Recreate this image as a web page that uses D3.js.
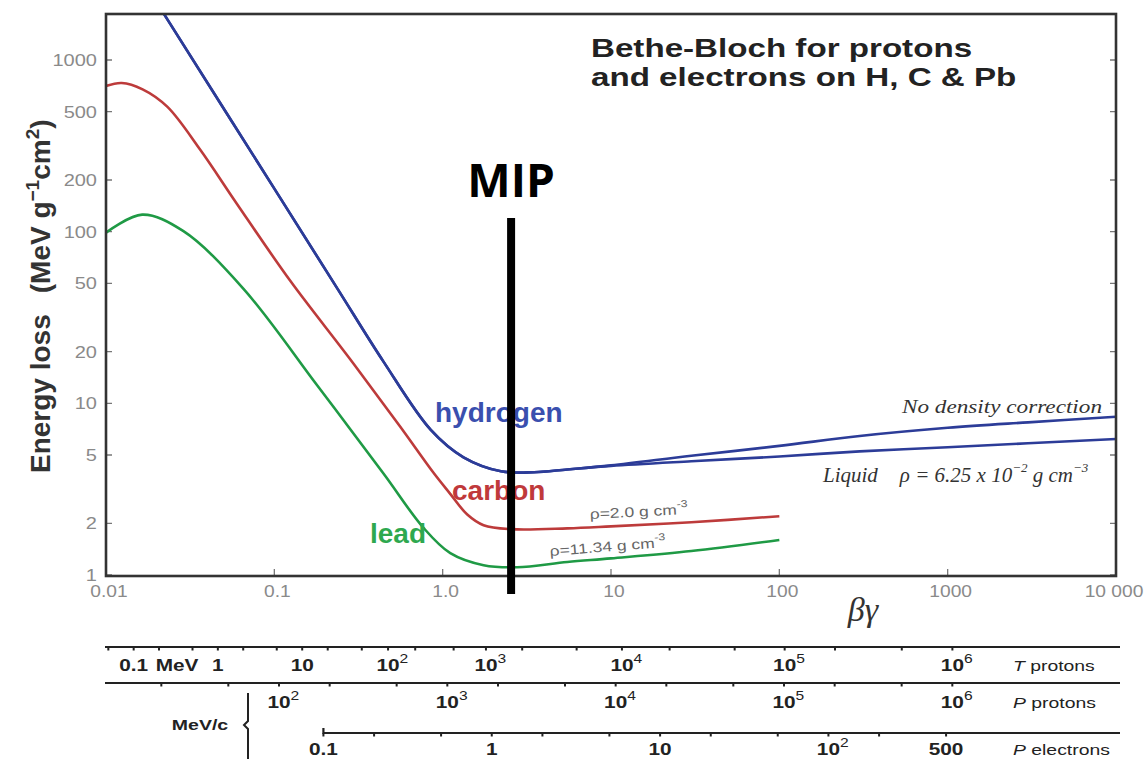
<!DOCTYPE html>
<html>
<head>
<meta charset="utf-8">
<script src="https://cdn.jsdelivr.net/npm/d3@7"></script>
<style>
body{margin:0;background:#fff}
svg{display:block}
</style>
</head>
<body>
<svg id="mainsvg" width="1148" height="759"></svg>
<script>
// [βγ, energy loss in MeV g^-1 cm^2]
const hydrogen = [[0.02,2170],[0.0231,1730],[0.1,178],[0.237,46.6],[0.445,17.5],[0.85,7.0],[1.33,4.85],[2.22,4.02],[3.5,3.97],[5.5,4.12]]
const hydrogenNoDensity = [[10,4.35],[30,4.95],[100,5.65],[300,6.45],[1000,7.2],[3000,7.75],[10000,8.35]]
const hydrogenLiquid = [[10,4.32],[30,4.6],[100,4.9],[300,5.25],[1000,5.55],[3000,5.85],[10000,6.2]]
const carbon = [[0.01,706],[0.0124,735],[0.0165,675],[0.0231,535],[0.0363,300],[0.06,145],[0.124,51.9],[0.283,18],[0.56,7.3],[0.88,3.95],[1.1,3.0],[1.4,2.25],[1.75,1.95],[2.55,1.85],[5.5,1.87],[10,1.92],[30,2.03],[100,2.2]]
const lead = [[0.01,98.7],[0.0164,125.6],[0.0287,101],[0.0654,46.6],[0.18,12.7],[0.445,3.9],[0.77,1.88],[1.11,1.34],[1.75,1.14],[2.77,1.11],[5.5,1.19],[10,1.25],[30,1.38],[100,1.6]]

const yTicks = [1,2,5,10,20,50,100,200,500,1000]
const xTicks = [0.01,0.1,1,10,100,1000,10000]
const xTickLabels = ['0.01','0.1','1.0','10','100','1000','10 000']
const mipBetaGamma = 2.55

// secondary scales: kinetic energy / momentum (MeV, MeV/c)
const protonMass = 938.3
const electronMass = 0.511
const tProtonTicks = [0.05,0.1,0.2,0.5,1,2,5,10,20,50,100,200,500,1000,2000,5000,1e4,2e4,5e4,1e5,2e5,5e5,1e6]
const tProtonLabels = [[0.1,'0.1',''],[1,'1',''],[10,'10',''],[100,'10','2'],[1000,'10','3'],[1e4,'10','4'],[1e5,'10','5'],[1e6,'10','6']]
const pProtonTicks = [20,50,100,200,500,1000,2000,5000,1e4,2e4,5e4,1e5,2e5,5e5,1e6]
const pProtonLabels = [[100,'10','2'],[1000,'10','3'],[1e4,'10','4'],[1e5,'10','5'],[1e6,'10','6']]
const pElectronTicks = [0.1,0.2,0.5,1,2,5,10,20,50,100,200,500]
const pElectronLabels = [[0.1,'0.1',''],[1,'1',''],[10,'10',''],[100,'10','2'],[500,'500','']]

const sans = "'Liberation Sans', Arial, Helvetica, sans-serif"
const stretch = 1.3

let plotLeft = 106, plotRight = 1116, plotTop = 14, plotBottom = 576
let x = d3.scaleLog().domain([0.01,10000]).range([plotLeft,plotRight])
let y = d3.scaleLog().domain([1,1000]).range([575,60])

const svg = d3.select('#mainsvg')
svg.append('defs').append('clipPath').attr('id','plotClip')
    .append('rect').attr('x',plotLeft).attr('y',plotTop).attr('width',plotRight - plotLeft).attr('height',plotBottom - plotTop)

// title
const title = svg.append('g').attr('transform',`translate(591,0)`)
;['Bethe-Bloch for protons','and electrons on H, C & Pb'].forEach((t,i) => {
    title.append('text')
        .attr('transform',`translate(0,${57 + i * 29}) scale(${stretch},1)`)
        .attr('font-family',sans).attr('font-weight','bold').attr('font-size',25.5)
        .attr('fill','#222').text(t)
})

// ticks + labels on main axes
svg.selectAll('.ytick').data(yTicks).enter().append('path')
    .attr('d',d => `M${plotLeft},${y(d)} h6 M${plotRight},${y(d)} h-6`)
    .attr('stroke','#777').attr('stroke-width',1.3)
svg.selectAll('.ylab').data(yTicks).enter().append('text')
    .attr('transform',d => `translate(97,${y(d) + 6}) scale(1.25,1)`)
    .attr('text-anchor','end').attr('font-family',sans).attr('font-size',16)
    .attr('fill','#8a8a8a').text(d => d)
svg.selectAll('.xtick').data(xTicks).enter().append('path')
    .attr('d',d => `M${x(d)},${plotBottom} v-7`)
    .attr('stroke','#777').attr('stroke-width',1.3)
svg.selectAll('.xlab').data(xTicks).enter().append('text')
    .attr('transform',(d,i) => `translate(${i === xTicks.length - 1 ? x(d) - 2 : x(d) + 3},597) scale(1.2,1)`)
    .attr('text-anchor','middle').attr('font-family',sans).attr('font-size',16)
    .attr('fill','#8a8a8a').text((d,i) => xTickLabels[i])

// y title
const ytitle = svg.append('text')
    .attr('transform','translate(50,473) rotate(-90)')
    .attr('font-family',sans).attr('font-weight','bold').attr('font-size',28).attr('fill','#333')
ytitle.append('tspan').text('Energy loss')
ytitle.append('tspan').attr('dx',21).text('(MeV g')
ytitle.append('tspan').attr('font-size',19).attr('dy',-11).text('\u22121')
ytitle.append('tspan').attr('dy',11).text('cm')
ytitle.append('tspan').attr('font-size',19).attr('dy',-11).text('2')
ytitle.append('tspan').attr('dy',11).text(')')

// βγ
svg.append('text').attr('x',863).attr('y',621).attr('text-anchor','middle')
    .attr('font-family',"'Liberation Serif', serif").attr('font-style','italic')
    .attr('font-size',34).attr('fill','#333').text('\u03b2\u03b3')

// curves
let line = d3.line().x(d => x(d[0])).y(d => y(d[1])).curve(d3.curveCatmullRom.alpha(0.5))
const curves = svg.append('g').attr('clip-path','url(#plotClip)')
const series = [
    [hydrogen.concat(hydrogenNoDensity),'#2c3c98'],
    [hydrogen.concat(hydrogenLiquid),'#2c3c98'],
    [carbon,'#bd3b3b'],
    [lead,'#1f9a45']
]
series.forEach(s => {
    curves.append('path').attr('d',line(s[0]))
        .attr('fill','none').attr('stroke',s[1]).attr('stroke-width',2.6)
})

// frame
svg.append('rect').attr('x',plotLeft).attr('y',plotTop).attr('width',plotRight - plotLeft).attr('height',plotBottom - plotTop)
    .attr('fill','none').attr('stroke','#333').attr('stroke-width',2.6)

// curve labels
const curveLabels = [['hydrogen',435,422,'#3a4fae'],['carbon',452,500,'#c0393b'],['lead',370,543,'#2ea84f']]
curveLabels.forEach(c => {
    svg.append('text').attr('x',c[1]).attr('y',c[2])
        .attr('font-family',sans).attr('font-weight','bold').attr('font-size',28)
        .attr('fill',c[3]).text(c[0])
})

// density notes
function densityNote(tx,ty,angle,label){
    const t = svg.append('text')
        .attr('transform',`translate(${tx},${ty}) rotate(${angle}) scale(1.25,1)`)
        .attr('font-family',sans).attr('font-size',14).attr('fill','#666')
    t.append('tspan').text(label)
    t.append('tspan').attr('font-size',10).attr('dy',-7).text('-3')
}
densityNote(590,519,-3,'\u03c1=2.0 g cm')
densityNote(550,556,-4.5,'\u03c1=11.34 g cm')

const hand = "'Liberation Serif', 'DejaVu Serif', serif"
svg.append('text').attr('x',902).attr('y',413)
    .attr('font-family',hand).attr('font-style','italic').attr('font-size',18).attr('fill','#333')
    .attr('textLength',200).attr('lengthAdjust','spacingAndGlyphs')
    .text('No density correction')
const liq = svg.append('text').attr('x',823).attr('y',482)
    .attr('font-family',hand).attr('font-style','italic').attr('font-size',21).attr('fill','#333')
liq.append('tspan').text('Liquid')
liq.append('tspan').attr('dx',22).text('\u03c1 = 6.25 x 10')
liq.append('tspan').attr('font-size',13).attr('dy',-10).text('\u22122')
liq.append('tspan').attr('dy',10).text(' g cm')
liq.append('tspan').attr('font-size',13).attr('dy',-10).text('\u22123')

// secondary scales
const tToBg = (t,m) => { let gm = 1 + t / m; return Math.sqrt(gm * gm - 1) }
const pToBg = (p,m) => p / m
const rows = [
    {y:647, x0:105, ticks:tProtonTicks, labels:tProtonLabels, conv:v => tToBg(v,protonMass), name:'T', rest:' protons', ly:671},
    {y:683, x0:105, ticks:pProtonTicks, labels:pProtonLabels, conv:v => pToBg(v,protonMass), name:'P', rest:' protons', ly:708},
    {y:733, x0:x(pToBg(0.1,electronMass)), ticks:pElectronTicks, labels:pElectronLabels, conv:v => pToBg(v,electronMass), name:'P', rest:' electrons', ly:755}
]
rows.forEach((r,ri) => {
    const rg = svg.append('g')
    let hook = ri === 2 ? `M${r.x0},${r.y - 5} L${r.x0},${r.y}` : `M${r.x0},${r.y}`
    rg.append('path').attr('d',`${hook} L1120,${r.y}`)
        .attr('fill','none').attr('stroke','#222').attr('stroke-width',2.2)
    rg.selectAll('.mt').data(r.ticks).enter().append('path')
        .attr('d',d => `M${x(r.conv(d))},${r.y} v3.5`)
        .attr('stroke','#222').attr('stroke-width',2)
    r.labels.forEach(l => {
        const t = rg.append('text')
            .attr('transform',`translate(${x(r.conv(l[0]))},${r.ly}) scale(${stretch},1)`)
            .attr('font-family',sans).attr('font-weight','bold').attr('font-size',16).attr('fill','#222')
        if(l[2] === ''){
            t.attr('text-anchor','middle').text(l[1])
        }else{
            t.attr('dx','-0.556em')
            t.append('tspan').text(l[1])
            t.append('tspan').attr('font-size',12).attr('font-weight','normal').attr('dy',-8).text(l[2])
        }
    })
    const nm = rg.append('text')
        .attr('transform',`translate(1013,${r.ly}) scale(1.25,1)`)
        .attr('font-family',sans).attr('font-size',15.5).attr('fill','#222')
    nm.append('tspan').attr('font-style','italic').text(r.name)
    nm.append('tspan').text(r.rest)
})
svg.append('text')
    .attr('transform',`translate(${x(tToBg(0.1,protonMass)) + 22},671) scale(${stretch},1)`)
    .attr('font-family',sans).attr('font-weight','bold').attr('font-size',16).attr('fill','#222')
    .text('MeV')
svg.append('text')
    .attr('transform',`translate(200,730) scale(${stretch},1)`)
    .attr('text-anchor','middle').attr('font-family',sans).attr('font-weight','bold').attr('font-size',15).attr('fill','#222')
    .text('MeV/c')
svg.append('path').attr('d','M248,693 L248,721 L244,725 L248,729 L248,760')
    .attr('fill','none').attr('stroke','#222').attr('stroke-width',2)

// MIP marker
let mipX = x(mipBetaGamma)
svg.append('line').attr('x1',mipX).attr('x2',mipX).attr('y1',218).attr('y2',594)
    .attr('stroke','#000').attr('stroke-width',8)
svg.append('text').attr('x',mipX).attr('y',197).attr('text-anchor','middle')
    .attr('font-family',"'Open Sans', sans-serif").attr('font-weight','bold').attr('font-size',46)
    .attr('fill','#000').text('MIP')
</script>
</body>
</html>
